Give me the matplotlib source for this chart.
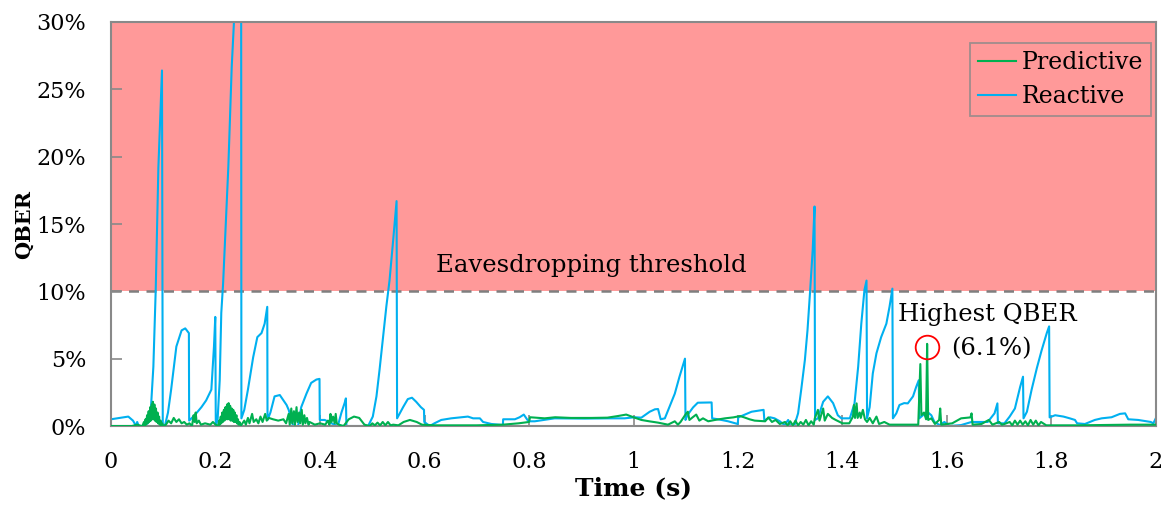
import numpy as np
import matplotlib
matplotlib.use("Agg")
import matplotlib.pyplot as plt
from matplotlib.ticker import PercentFormatter, FixedLocator

# ---------------- data (time in s, QBER in %) ----------------
reactive_t = [0.0, 0.033, 0.042, 0.048, 0.05, 0.053, 0.062, 0.07, 0.075, 0.081, 0.0855, 0.0906, 0.0975, 0.099,
              0.103, 0.109, 0.115, 0.125, 0.135, 0.142, 0.149, 0.1495, 0.16, 0.173, 0.182, 0.192, 0.197, 0.1995, 0.2005,
              0.204, 0.208, 0.211, 0.2145, 0.2245, 0.231, 0.2354, 0.242, 0.249, 0.2495, 0.255, 0.262, 0.272, 0.28,
              0.288, 0.294, 0.299, 0.2995, 0.305, 0.313, 0.323, 0.336, 0.34, 0.347, 0.349, 0.358, 0.364, 0.374, 0.383,
              0.393, 0.399, 0.3995, 0.409, 0.422, 0.434, 0.441, 0.447, 0.4495, 0.4505, 0.492, 0.501, 0.508, 0.514,
              0.52, 0.527, 0.533, 0.54, 0.5465, 0.5475, 0.559, 0.568, 0.576, 0.584, 0.593, 0.599, 0.5995, 0.61, 0.619,
              0.632, 0.651, 0.67, 0.683, 0.693, 0.706, 0.712, 0.728, 0.75, 0.7505, 0.773, 0.782, 0.79, 0.797, 0.801,
              0.811, 0.849, 0.906, 0.951, 0.983, 1.002, 1.015, 1.031, 1.041, 1.047, 1.052, 1.06, 1.069, 1.079, 1.088,
              1.0985, 1.0995, 1.103, 1.114, 1.123, 1.1495, 1.1505, 1.162, 1.181, 1.1995, 1.2005, 1.226, 1.249, 1.2505,
              1.261, 1.27, 1.28, 1.289, 1.296, 1.30, 1.308, 1.315, 1.321, 1.328, 1.333, 1.338, 1.343, 1.3465, 1.3475,
              1.353, 1.363, 1.372, 1.382, 1.391, 1.398, 1.414, 1.423, 1.43, 1.436, 1.442, 1.446, 1.447, 1.452, 1.458,
              1.465, 1.474, 1.484, 1.49, 1.4955, 1.4965, 1.503, 1.509, 1.518, 1.525, 1.535, 1.541, 1.546, 1.547, 1.554,
              1.562, 1.57, 1.576, 1.586, 1.595, 1.605, 1.627, 1.647, 1.678, 1.691, 1.6965, 1.6975, 1.71, 1.72, 1.73,
              1.74, 1.7455, 1.7465, 1.753, 1.762, 1.772, 1.781, 1.791, 1.7955, 1.7965, 1.807, 1.823, 1.835, 1.845,
              1.849, 1.864, 1.883, 1.896, 1.915, 1.931, 1.941, 1.947, 1.966, 1.99, 1.995, 2.0]
reactive_v = [0.5, 0.7, 0.4, 0.0, 0.3, 0.0, 0.0, 0.2, 0.45, 4.4, 10.1, 19.2, 26.4, 0.0,
              0.0, 1.0, 2.7, 5.9, 7.1, 7.25, 6.9, 0.4, 0.8, 1.4, 1.9, 2.7, 5.9, 8.1, 0.0,
              0.5, 3.4, 8.4, 10.6, 19.25, 26.7, 30.1, 32.0, 34.0, 0.57, 1.2, 2.7, 5.1, 6.6,
              6.9, 7.6, 8.85, 0.45, 1.0, 2.2, 2.3, 1.56, 1.2, 0.2, 0.0, 0.0, 1.4, 2.4, 3.2,
              3.45, 3.5, 0.45, 0.45, 0.2, 0.0, 1.0, 1.7, 2.05, 0.0, 0.0, 0.7, 2.2, 4.2,
              6.4, 8.9, 10.8, 13.8, 16.7, 0.57, 1.4, 2.0, 2.1, 1.8, 1.4, 1.2, 0.3, 0.0, 0.2,
              0.45, 0.57, 0.65, 0.7, 0.57, 0.57, 0.3, 0.15, 0.07, 0.5, 0.5, 0.65, 0.85, 0.45, 0.35,
              0.35, 0.57, 0.55, 0.57, 0.57, 0.65, 0.62, 1.06, 1.24, 1.26, 0.5, 0.57, 1.43, 2.4, 3.66,
              5.0, 0.45, 0.8, 1.38, 1.73, 1.75, 0.57, 0.5, 0.35, 0.15, 0.64, 1.06, 1.2, 0.4,
              0.65, 0.57, 0.35, 0.07, 0.45, 0.0, 0.05, 0.94, 2.7, 4.9, 7.1, 10.0, 13.1, 16.3, 0.45,
              0.57, 1.8, 2.2, 1.7, 0.8, 0.57, 0.57, 1.68, 4.4, 7.6, 10.1, 10.8, 0.57, 1.4, 3.9,
              5.4, 6.6, 7.6, 8.85, 10.2, 0.57, 0.94, 1.56, 1.7, 1.68, 2.2, 2.9, 3.4, 0.57, 0.8,
              1.06, 0.8, 0.3, 0.07, 0.3, 0.0, 0.07, 0.3, 0.3, 0.94, 1.68, 0.2, 0.2, 0.7, 1.3,
              2.9, 3.66, 0.57, 1.06, 2.7, 4.3, 5.6, 6.9, 7.4, 0.64, 0.8, 0.7, 0.57, 0.45,
              0.2, 0.15, 0.45, 0.57, 0.65, 0.9, 0.94, 0.5, 0.45, 0.3, 0.2, 0.6]

predictive_t = [0.0, 0.04, 0.05, 0.058,
                0.060, 0.063, 0.064, 0.066, 0.067, 0.069, 0.070, 0.072, 0.073, 0.075, 0.076, 0.078, 0.079, 0.080,
                0.081, 0.083, 0.084, 0.086, 0.087, 0.089, 0.090, 0.092, 0.093, 0.095, 0.096, 0.098,
                0.100, 0.105, 0.11, 0.115, 0.12, 0.125, 0.13, 0.135, 0.14, 0.145, 0.15, 0.155, 0.158, 0.160, 0.162,
                0.164, 0.168, 0.172, 0.18, 0.19, 0.195, 0.2,
                0.205, 0.207, 0.208, 0.210, 0.211, 0.213, 0.214, 0.216, 0.217, 0.219, 0.220, 0.222, 0.223, 0.225,
                0.226, 0.228, 0.229, 0.231, 0.232, 0.234, 0.235, 0.237, 0.238, 0.240, 0.241, 0.243, 0.244, 0.246,
                0.248, 0.255, 0.258, 0.262, 0.265, 0.27, 0.273, 0.278, 0.282, 0.286, 0.29, 0.295, 0.298, 0.302,
                0.31, 0.32, 0.33, 0.335, 0.34, 0.342, 0.345, 0.347, 0.350, 0.352, 0.355, 0.357, 0.360, 0.362,
                0.365, 0.367, 0.37, 0.372, 0.375, 0.378, 0.38, 0.39, 0.40, 0.41, 0.415, 0.418, 0.42, 0.422, 0.425,
                0.428, 0.43, 0.432, 0.436, 0.445, 0.455, 0.465, 0.475, 0.485, 0.495, 0.50, 0.505, 0.51, 0.515,
                0.52, 0.525, 0.53, 0.535, 0.54, 0.55, 0.56, 0.572, 0.585, 0.595, 0.62, 0.70, 0.75, 0.78, 0.800,
                0.802, 0.83, 0.85, 0.88, 0.92, 0.95, 0.97, 0.986, 1.0, 1.015, 1.03, 1.047, 1.066, 1.079, 1.085,
                1.09, 1.101, 1.104, 1.107, 1.113, 1.12, 1.126, 1.133, 1.143, 1.156, 1.175, 1.191, 1.204, 1.212,
                1.222, 1.232, 1.252, 1.258, 1.265, 1.272, 1.28, 1.29, 1.295, 1.30, 1.305, 1.31, 1.315, 1.32, 1.325,
                1.33, 1.335, 1.34, 1.345, 1.347, 1.353, 1.356, 1.363, 1.366, 1.372, 1.38, 1.387, 1.40, 1.413, 1.42,
                1.422, 1.424, 1.427, 1.429, 1.433, 1.435, 1.439, 1.443, 1.447, 1.452, 1.458, 1.465, 1.47, 1.48,
                1.49, 1.52, 1.545, 1.549, 1.551, 1.556, 1.560, 1.562, 1.564, 1.57, 1.577, 1.585, 1.587, 1.589,
                1.61, 1.627, 1.645, 1.647, 1.649, 1.666, 1.68, 1.687, 1.70, 1.705, 1.71, 1.72, 1.725, 1.73, 1.735,
                1.74, 1.745, 1.75, 1.755, 1.76, 1.765, 1.77, 1.775, 1.78, 1.79, 1.85, 1.95, 2.0]
predictive_v = [0.0, 0.0, 0.1, 0.0,
                0.0, 0.3, 0.0, 0.5, 0.1, 0.8, 0.2, 1.1, 0.3, 1.4, 0.4, 1.6, 0.5, 1.8,
                0.5, 1.6, 0.4, 1.3, 0.3, 1.0, 0.2, 0.7, 0.1, 0.4, 0.0, 0.2,
                0.0, 0.1, 0.4, 0.2, 0.6, 0.3, 0.5, 0.2, 0.3, 0.1, 0.2, 0.0, 0.8, 0.3, 1.0,
                0.2, 0.4, 0.1, 0.2, 0.1, 0.3, 0.1,
                0.0, 0.4, 0.1, 0.7, 0.2, 1.0, 0.3, 1.2, 0.4, 1.4, 0.5, 1.6, 0.5, 1.7,
                0.5, 1.5, 0.4, 1.3, 0.4, 1.2, 0.3, 1.0, 0.3, 0.8, 0.2, 0.5, 0.1, 0.3,
                0.0, 0.4, 0.1, 0.6, 0.2, 0.9, 0.3, 0.5, 0.2, 0.7, 0.3, 0.9, 0.4, 0.6,
                0.5, 0.4, 0.5, 0.2, 0.9, 0.1, 1.3, 0.2, 1.1, 0.1, 1.4, 0.3, 1.0, 0.2,
                1.2, 0.1, 0.8, 0.2, 0.6, 0.1, 0.3, 0.1, 0.2, 0.1, 0.4, 0.1, 0.9, 0.3, 0.7,
                0.2, 0.9, 0.2, 0.1, 0.0, 0.5, 0.7, 0.6, 0.1, 0.0, 0.2, 0.05, 0.25, 0.05,
                0.3, 0.05, 0.3, 0.05, 0.1, 0.05, 0.3, 0.45, 0.3, 0.1, 0.05, 0.05, 0.1, 0.2, 0.3,
                0.65, 0.57, 0.65, 0.6, 0.6, 0.62, 0.74, 0.85, 0.65, 0.45, 0.35, 0.25, 0.1, 0.35, 0.1,
                0.3, 0.94, 1.06, 0.45, 0.64, 0.85, 0.4, 0.57, 0.35, 0.45, 0.57, 0.64, 0.74, 0.64,
                0.5, 0.4, 0.35, 0.64, 0.3, 0.45, 0.15, 0.3, 0.05, 0.35, 0.05, 0.4, 0.05, 0.3, 0.1,
                0.45, 0.05, 0.35, 0.1, 0.57, 1.2, 0.4, 1.3, 0.4, 0.9, 0.6, 0.45, 0.2, 0.2, 0.7,
                1.56, 0.6, 1.68, 0.6, 1.0, 0.6, 1.2, 0.5, 0.3, 0.6, 0.2, 0.7, 0.15, 0.3,
                0.1, 0.1, 0.1, 4.6, 0.8, 1.0, 0.5, 6.1, 0.45, 0.57, 0.15, 0.45, 1.3, 0.1,
                0.2, 0.57, 0.64, 0.94, 0.1, 0.15, 0.45, 0.1, 0.3, 0.1, 0.15, 0.3, 0.05, 0.4, 0.1,
                0.4, 0.1, 0.35, 0.05, 0.45, 0.1, 0.4, 0.05, 0.3, 0.05, 0.05, 0.1, 0.1]

x_ticks = [0, 0.2, 0.4, 0.6, 0.8, 1.0, 1.2, 1.4, 1.6, 1.8, 2.0]
x_tick_labels = ["0", "0.2", "0.4", "0.6", "0.8", "1", "1.2", "1.4", "1.6", "1.8", "2"]
y_ticks = [0, 5, 10, 15, 20, 25, 30]
threshold = 10
y_max = 30

# ---------------- styling ----------------
plt.rcParams['font.family'] = ['DejaVu Serif']
GREEN = "#00B050"
BLUE = "#00B0F0"
RED_FILL = "#FF9999"
GRAY = "#898989"

fig = plt.figure(figsize=(11.64, 5.08), dpi=100)
ax = fig.add_axes([0.0954, 0.1614, 0.8977, 0.7953])

ax.axhspan(threshold, y_max, color=RED_FILL, zorder=0, lw=0)
ax.axhline(threshold, color="#7F7F7F", lw=1.8, ls=(0, (4, 3)), zorder=1)

ax.plot(predictive_t, predictive_v, color=GREEN, lw=1.5, label="Predictive", zorder=3)
ax.plot(reactive_t, reactive_v, color=BLUE, lw=1.5, label="Reactive", zorder=2)

ax.set_xlim(0, 2)
ax.set_ylim(0, y_max)
ax.xaxis.set_major_locator(FixedLocator(x_ticks))
ax.set_xticklabels(x_tick_labels)
ax.set_yticks(y_ticks)
ax.yaxis.set_major_formatter(PercentFormatter(decimals=0))
ax.tick_params(axis='both', direction='in', length=8, width=1.2, color=GRAY, labelsize=16, pad=18)
for s in ax.spines.values():
    s.set_color(GRAY)
    s.set_linewidth(1.5)

ax.set_xlabel("Time (s)", fontsize=18, fontweight='bold', labelpad=2)
ax.set_ylabel("QBER", fontsize=15, fontweight='bold', labelpad=2)

ax.text(0.919, 11.95, "Eavesdropping threshold", fontsize=17.5, ha='center', va='center', zorder=4)

# highlight highest predictive QBER
pv = np.array(predictive_v)
imax = int(np.argmax(pv))
ax.plot([predictive_t[imax]], [pv[imax] - 0.25], marker='o', ms=17, mfc='none', mec='red', mew=1.3,
        zorder=5, clip_on=False)
ax.text(1.677, 8.3, "Highest QBER", fontsize=17.5, ha='center', va='center', zorder=4)
ax.text(1.685, 5.75, f"({pv[imax]:.1f}%)", fontsize=17.5, ha='center', va='center', zorder=4)

leg = ax.legend(loc='upper right', bbox_to_anchor=(0.9955, 0.948), fontsize=17, frameon=True,
                fancybox=False, handlelength=1.6, handletextpad=0.25, borderpad=0.35, labelspacing=0.45,
                borderaxespad=0)
leg.get_frame().set_facecolor('none')
leg.get_frame().set_edgecolor(GRAY)
leg.get_frame().set_linewidth(1.3)

fig.savefig("out.png", dpi=100)
